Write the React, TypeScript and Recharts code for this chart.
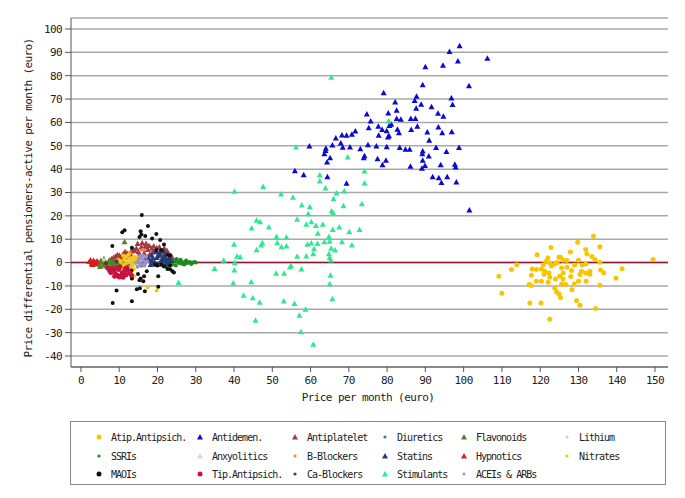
import React from 'react'
import { ScatterChart, Scatter, XAxis, YAxis, CartesianGrid, ReferenceLine } from 'recharts'

// Prezzo mensile (x, euro) vs differenziale pensionati-attivi (y, euro)
type Pt = [number, number]

const xTicks = [0, 10, 20, 30, 40, 50, 60, 70, 80, 90, 100, 110, 120, 130, 140, 150]
const yTicks = [-40, -30, -20, -10, 0, 10, 20, 30, 40, 50, 60, 70, 80, 90, 100]

const atipAntipsich: Pt[] = [
  [133.9, 11.3], [129.8, 8.7], [122.8, 6.5], [135.6, 6.8], [131.9, 5.6], [132.2, 3.7], [127.9, 4.5],
  [119.2, 3.3], [124.9, 2.3], [125.3, 2.3], [133.5, 2.6], [134.3, 1.3], [149.5, 1.3], [127.0, 0.9],
  [121.6, 0.6], [122.5, -0.2], [123.8, -0.6], [124.4, 0], [135.6, 0.1], [131.9, -0.6], [113.9, -0.9],
  [120.8, -0.9], [112.5, -3.0], [117.9, -2.7], [120.3, -2.7], [125.6, -2.3], [128.2, -3.4], [135.8, -3.2],
  [141.4, -2.6], [121.2, -3.7], [122.3, -4.5], [126.0, -4.5], [130.8, -3.7], [131.9, -4.5], [133.0, -3.7],
  [136.6, -4.3], [117.7, -5.4], [109.2, -5.9], [122.5, -6.3], [125.1, -5.9], [130.4, -5.1], [139.8, -6.7],
  [120.3, -8.0], [122.1, -8.4], [119.0, -8.0], [130.0, -8.0], [117.1, -9.4], [117.7, -9.8], [125.6, -9.2],
  [126.7, -9.4], [128.9, -9.2], [135.6, -9.7], [123.8, -10.9], [128.3, -11.6], [124.3, -12.6], [124.9, -13.3],
  [110.0, -13.1], [125.3, -14.9], [117.3, -17.3], [120.2, -17.3], [129.5, -16.3], [130.4, -18.3],
  [134.5, -19.7], [122.5, -24.3], [123.0, -1.5], [126.0, 1.0], [127.0, -2.0], [129.0, -1.0], [121.0, -5.0],
  [124.0, -7.0], [128.0, -6.0], [131.0, -1.0], [133.0, -5.0], [119.0, -3.0], [126.0, -7.0], [122.0, 2.0],
  [130.0, 1.0], [132.0, -8.0],
]

const antidemen: Pt[] = [
  [98.95, 92.7], [96.3, 90.2], [106.2, 87.3], [98.5, 86.2], [90.0, 83.7], [94.6, 84.3], [89.3, 76.0],
  [101.4, 75.6], [79.1, 72.6], [87.7, 71.1], [87.2, 69.3], [96.8, 70.3], [82.1, 68.6], [88.9, 67.6],
  [97.1, 67.5], [91.6, 66.6], [87.6, 65.9], [82.5, 65.1], [80.3, 63.9], [74.7, 63.5], [93.3, 63.8],
  [94.7, 62.5], [82.5, 61.6], [83.6, 61.2], [86.2, 61.5], [87.4, 61.5], [75.7, 60.5], [81.1, 59.1],
  [80.6, 58.5], [77.7, 58.2], [75.2, 57.6], [87.9, 58.2], [93.4, 57.9], [86.3, 56.8], [78.7, 56.8],
  [79.9, 56.3], [82.7, 56.9], [71.7, 56.2], [70.8, 54.8], [83.1, 55.4], [90.5, 55.8], [94.4, 55.4],
  [96.9, 55.9], [68.2, 54.5], [69.4, 54.4], [77.8, 54.4], [80.5, 54.2], [80.2, 53.6], [66.6, 53.2],
  [91.0, 52.2], [67.9, 51.1], [65.7, 50.2], [59.7, 49.8], [75.0, 50.3], [77.2, 49.8], [79.9, 49.5],
  [68.4, 49.2], [70.3, 49.4], [64.0, 48.8], [73.0, 48.6], [83.3, 49.1], [84.8, 48.4], [85.9, 48.4],
  [92.8, 49.1], [98.8, 49.1], [63.9, 47.9], [89.3, 47.6], [95.5, 47.4], [63.6, 46.5], [89.2, 46.5],
  [74.1, 45.6], [90.9, 45.5], [65.1, 44.8], [73.9, 44.8], [77.5, 44.3], [89.3, 43.7], [64.3, 42.9],
  [79.7, 43.7], [78.8, 41.7], [86.1, 41.1], [89.9, 41.4], [94.0, 41.7], [97.7, 42.0], [97.9, 40.8],
  [89.1, 40.2], [55.9, 39.2], [58.2, 37.5], [64.4, 36.6], [91.9, 36.6], [93.5, 36.2], [95.7, 36.6],
  [94.2, 34.1], [98.1, 34.4], [69.4, 33.8], [101.5, 22.4],
]

const antiplatelet: Pt[] = [
  [8.0, 1.5], [9.0, 2.5], [10.0, 3.0], [11.0, 3.5], [12.0, 4.0], [13.0, 3.5], [14.0, 5.0], [15.0, 4.5],
  [16.0, 8.4], [17.0, 8.0], [15.8, 6.5], [17.5, 5.5], [18.5, 6.0], [19.5, 5.0], [20.5, 6.5], [21.5, 4.5],
  [22.5, 5.0], [23.5, 3.0], [13.5, 5.5], [16.5, 4.0], [18.0, 3.5], [19.0, 7.0], [21.0, 3.0], [12.5, 2.0],
  [8.5, 2.0], [9.5, 3.2], [10.5, 2.5], [11.5, 4.5], [12.2, 3.0], [13.2, 4.8], [14.5, 6.0], [15.3, 3.5],
  [16.2, 5.8], [17.8, 7.2], [18.8, 4.5], [19.8, 6.2], [20.8, 5.2], [21.8, 6.0], [22.8, 3.8], [23.8, 2.2],
  [14.8, 8.0], [16.8, 6.8],
]
const diuretics: Pt[] = [[4.3, 0.4], [8.6, 0.2], [16.5, -0.5], [12.5, -1.2], [18.0, 1.0]]
const flavonoids: Pt[] = [
  [4.5, -0.5], [5.2, 0.8], [5.8, -1.2], [6.3, 0.3], [6.9, -0.8], [7.4, 1.0], [8.0, -1.5], [8.5, 0.2],
  [9.0, -0.6], [9.6, 0.9], [10.2, -1.0], [5.0, -1.8], [7.0, -2.0], [11.4, 8.8], [3.5, 0.2], [4.0, -0.8],
  [5.5, 0], [6.0, 1.5], [6.6, -1.5], [7.2, 0], [7.8, 0.6], [8.2, -0.4], [9.3, -1.5], [9.8, 0.1],
  [10.6, 0.4], [11.0, -0.3],
]
const lithium: Pt[] = [[6.0, 1.2], [14.0, 0.8], [19.0, -0.3]]
const ssri: Pt[] = [
  [21.5, 0.3], [22.2, -0.8], [23.0, 1.0], [23.6, -0.4], [24.2, 0.6], [24.8, -1.2], [25.4, 0.2], [26.0, 1.2],
  [26.6, -0.6], [27.2, 0.4], [27.8, -0.2], [28.5, 0.3], [29.2, -0.1], [22.8, -1.5], [25.0, 1.5],
  [21.8, -0.2], [22.5, 0.6], [23.3, 0.1], [24.0, -0.8], [24.5, 1.0], [25.8, -0.3], [26.3, 0.5], [27.0, -0.8],
  [27.5, 0.9], [28.0, 0], [28.8, -0.6], [29.6, 0.2], [30.0, 0],
]
const anxyolitics: Pt[] = [[12.5, 1.0], [18.0, 0.5]]
const bBlockers: Pt[] = [[9.5, 1.2], [12.8, 4.2], [14.6, 2.0], [16.2, 5.5], [11.6, -0.5]]
const statins: Pt[] = [
  [17.8, 1.0], [18.5, 3.0], [19.2, 0], [19.8, 2.0], [20.5, 4.0], [21.1, 1.0], [21.8, 3.0], [22.4, 0.5],
  [18.2, -1.0], [20.0, -0.8], [22.0, -1.5], [19.5, 4.5], [21.5, 5.0], [23.0, 2.0], [18.8, 1.8], [19.5, -0.5],
  [20.3, 2.8], [20.8, 0.2], [21.5, 2.0], [22.2, 1.5], [22.8, -0.5], [23.5, 0.8], [17.5, 2.2], [18.5, 0.5],
]
const hypnotics: Pt[] = [[2.2, 0.3], [2.8, -0.5], [3.3, 0.8], [3.8, -0.2], [2.5, 1.0], [3.0, -1.0], [4.2, 0.5]]
const nitrates: Pt[] = [
  [10.0, 1.0], [10.8, -1.0], [11.5, 2.0], [12.2, 0], [12.8, -2.0], [13.5, 1.5], [14.2, -0.5], [11.0, 3.0],
  [12.5, 3.5], [13.8, -2.8], [10.5, -2.5], [14.8, 2.2], [13.0, -4.5], [13.9, -5.9], [13.4, -6.8],
  [17.4, -10.6], [19.8, -12.0], [12.0, -3.5], [15.2, 0.5], [10.4, 0.2], [11.2, 1.2], [11.8, -1.8],
  [12.6, 1.8], [13.2, 0.5], [13.8, 2.6], [14.4, 1.2], [12.0, 2.8], [11.4, -0.8], [13.5, -1.2],
]
const maoi: Pt[] = [
  [15.9, 20.4], [17.5, 15.7], [11.4, 13.8], [10.8, 13.0], [15.6, 13.4], [15.8, 12.0], [16.8, 11.4],
  [15.3, 11.0], [19.7, 12.2], [18.6, 10.3], [20.7, 9.7], [8.2, 7.1], [13.3, 6.3], [21.7, 7.7], [19.7, 5.4],
  [21.0, 5.4], [22.6, 3.4], [23.3, 3.0], [19.3, -0.9], [20.0, -1.2], [21.0, -0.9], [21.7, -1.6], [23.3, -1.3],
  [22.6, -2.7], [23.9, -3.7], [15.8, -1.3], [17.2, -3.7], [13.2, -3.4], [14.9, -4.9], [16.5, -5.9],
  [13.3, -6.8], [15.6, -6.8], [15.3, -7.6], [16.3, -8.0], [20.2, -5.9], [20.2, -10.3], [14.6, -11.4],
  [15.4, -11.0], [16.7, -12.3], [9.3, -12.0], [8.3, -17.3], [13.3, -16.6], [24.3, -4.2], [23.3, -2.9],
]
const tipAntipsich: Pt[] = [
  [7.5, -3.5], [8.3, -2.5], [9.0, -4.8], [9.8, -3.0], [10.5, -5.5], [11.3, -3.8], [12.0, -2.2],
  [12.8, -4.5], [11.0, -6.3], [8.8, -5.8], [10.2, -1.8], [7.0, -2.3], [7.8, -4.2], [8.6, -3.2],
  [9.4, -2.2], [9.6, -5.5], [10.8, -4.4], [11.8, -5.2], [12.4, -3.4], [13.2, -5.4], [11.6, -2.6], [10.0, -6.2],
]
const caBlockers: Pt[] = [[6.5, -0.3], [9.3, 0.5], [17.0, 1.5]]
const stimulants: Pt[] = [
  [69.7, 45.1], [74.1, 39.1], [62.4, 37.4], [62.4, 34.8], [74.1, 33.9], [47.6, 32.4], [63.9, 31.8],
  [40.1, 30.4], [66.8, 29.7], [68.8, 30.5], [52.3, 29.2], [55.4, 27.8], [66.0, 27.2], [73.4, 25.1],
  [57.7, 24.5], [59.8, 23.8], [68.6, 24.2], [59.4, 20.8], [65.5, 22.0], [65.9, 21.2], [45.9, 18.0],
  [46.8, 17.3], [56.5, 18.4], [44.6, 14.7], [49.1, 15.1], [58.9, 16.3], [60.2, 17.3], [61.4, 15.7],
  [63.2, 16.3], [61.9, 12.4], [65.8, 14.0], [67.5, 15.1], [70.1, 13.1], [72.8, 14.0], [40.0, 7.7],
  [47.4, 8.4], [47.1, 7.4], [51.1, 11.0], [53.7, 10.7], [51.3, 8.4], [52.4, 6.7], [53.7, 7.0], [45.9, 5.4],
  [59.2, 7.7], [60.2, 8.3], [61.8, 8.0], [63.6, 8.8], [64.8, 11.0], [65.0, 9.0], [60.9, 5.8], [65.4, 6.0],
  [66.4, 5.3], [68.2, 8.8], [70.8, 7.4], [40.8, 2.6], [41.6, 2.3], [37.3, 0.9], [40.2, -0.2], [56.5, 2.6],
  [58.9, 2.7], [60.7, 3.7], [64.8, 3.7], [65.0, 2.0], [65.3, 1.0], [54.9, -1.5], [54.6, -2.0], [57.6, -2.9],
  [34.9, -2.7], [40.1, -3.3], [51.0, -4.7], [53.1, -4.7], [65.2, -5.6], [39.8, -8.9], [44.5, -8.3],
  [65.0, -9.2], [42.5, -14.1], [44.9, -15.2], [46.7, -17.1], [53.0, -16.6], [55.8, -17.6], [65.7, -15.6],
  [58.7, -20.1], [57.1, -22.7], [45.6, -24.8], [57.5, -29.7], [60.7, -35.1], [65.4, 79.2], [56.2, 49.4],
  [80.4, 60.5], [25.5, -8.7],
]
const aceiArb: Pt[] = [
  [14.5, 0], [15.2, 1.8], [15.8, -1.0], [16.4, 0.8], [17.0, 2.5], [14.8, -1.8], [16.8, -0.2], [15.5, 2.8],
  [15.0, 0.6], [16.0, 1.5], [16.6, -1.2], [17.3, 0.6], [15.4, -0.4], [16.2, 3.0],
]

type Marker = 'dot' | 'small' | 'tri'

interface SeriesMeta {
  label: string
  data: Pt[]
  color: string
  marker: Marker
}

// ordine di disegno = ordine della legenda (per righe)
const SERIES: SeriesMeta[] = [
  { label: 'Atip.Antipsich.', data: atipAntipsich, color: '#f7c600', marker: 'dot' },
  { label: 'Antidemen.', data: antidemen, color: '#0a0ad0', marker: 'tri' },
  { label: 'Antiplatelet', data: antiplatelet, color: '#a23b48', marker: 'tri' },
  { label: 'Diuretics', data: diuretics, color: '#3f7f7f', marker: 'small' },
  { label: 'Flavonoids', data: flavonoids, color: '#5d7d2a', marker: 'tri' },
  { label: 'Lithium', data: lithium, color: '#c8d89a', marker: 'small' },
  { label: 'SSRIs', data: ssri, color: '#1f8a1f', marker: 'small' },
  { label: 'Anxyolitics', data: anxyolitics, color: '#d8d8d8', marker: 'tri' },
  { label: 'B-Blockers', data: bBlockers, color: '#f58a2a', marker: 'small' },
  { label: 'Statins', data: statins, color: '#233a78', marker: 'tri' },
  { label: 'Hypnotics', data: hypnotics, color: '#e01a1a', marker: 'tri' },
  { label: 'Nitrates', data: nitrates, color: '#f5c518', marker: 'small' },
  { label: 'MAOIs', data: maoi, color: '#111111', marker: 'dot' },
  { label: 'Tip.Antipsich.', data: tipAntipsich, color: '#c8123f', marker: 'dot' },
  { label: 'Ca-Blockers', data: caBlockers, color: '#3a4a2a', marker: 'small' },
  { label: 'Stimulants', data: stimulants, color: '#2fe88f', marker: 'tri' },
  { label: 'ACEIs & ARBs', data: aceiArb, color: '#9a8fd0', marker: 'small' },
]

const FONT = '"DejaVu Sans Mono", monospace'

function markerShape(color: string, marker: Marker, r: number) {
  return (props: any) => {
    const { cx, cy } = props
    if (cx == null || cy == null) return <g />
    if (marker === 'tri') {
      return <polygon points={`${cx},${cy - 3.3} ${cx - 3},${cy + 2.2} ${cx + 3},${cy + 2.2}`} fill={color} />
    }
    return <circle cx={cx} cy={cy} r={r} fill={color} />
  }
}

function LegendMarker({ color, marker }: { color: string; marker: Marker }) {
  return (
    <svg width={8} height={8} style={{ display: 'block' }}>
      {marker === 'tri' ? (
        <polygon points="4,1 1,6.5 7,6.5" fill={color} />
      ) : (
        <circle cx={4} cy={4} r={marker === 'dot' ? 2.5 : 1.6} fill={color} />
      )}
    </svg>
  )
}

const LEG_COLS = [99, 200, 295, 385, 464, 567]
const LEG_ROWS = [437, 456, 474]

export default function App() {
  return (
    <div style={{ position: 'fixed', left: 0, top: 0, width: 685, height: 498, background: '#fff' }}>
      <ScatterChart width={685} height={498} margin={{ top: 18, right: 17, bottom: 101, left: 0 }}>
        <CartesianGrid vertical={false} stroke="#a8a8a8" strokeWidth={1.5} />
        <XAxis
          type="number"
          dataKey="x"
          domain={[-2.6, 153.4]}
          ticks={xTicks}
          height={30}
          tickSize={5}
          tickMargin={4}
          stroke="#555"
          tick={{ fontSize: 11, fill: '#222', fontFamily: FONT, letterSpacing: -0.6 }}
        />
        <YAxis
          type="number"
          dataKey="y"
          domain={[-44.7, 104.7]}
          ticks={yTicks}
          width={71}
          tickSize={6}
          tickMargin={3}
          stroke="#555"
          tick={{ fontSize: 11, fill: '#222', fontFamily: FONT, letterSpacing: -0.6 }}
        />
        <ReferenceLine y={0} stroke="#8c1a2e" strokeWidth={1.5} />
        {SERIES.map((s) => (
          <Scatter
            key={s.label}
            name={s.label}
            data={s.data.map(([x, y]) => ({ x, y }))}
            shape={markerShape(s.color, s.marker, s.label === 'MAOIs' ? 2 : s.marker === 'dot' ? 2.5 : 2)}
            isAnimationActive={false}
          />
        ))}
      </ScatterChart>

      <div
        style={{
          position: 'absolute',
          left: 28,
          top: 198,
          transform: 'translate(-50%, -50%) rotate(-90deg)',
          whiteSpace: 'nowrap',
          fontFamily: FONT,
          fontSize: 11,
          letterSpacing: -0.6,
          color: '#222',
        }}
      >
        Price differential pensioners-active per month (euro)
      </div>
      <div
        style={{
          position: 'absolute',
          left: 368,
          top: 397,
          transform: 'translate(-50%, -50%)',
          whiteSpace: 'nowrap',
          fontFamily: FONT,
          fontSize: 11,
          letterSpacing: -0.6,
          color: '#222',
        }}
      >
        Price per month (euro)
      </div>

      {/* legenda */}
      <div
        style={{
          position: 'absolute',
          left: 70,
          top: 421,
          width: 596,
          height: 64,
          border: '1.5px solid #888',
          boxSizing: 'border-box',
        }}
      />
      {SERIES.map((s, i) => {
        const col = i % 6
        const row = Math.floor(i / 6)
        return (
          <div
            key={s.label}
            style={{
              position: 'absolute',
              left: LEG_COLS[col] - 4,
              top: LEG_ROWS[row] - 6,
              display: 'flex',
              alignItems: 'center',
              gap: 8,
              height: 12,
              fontFamily: FONT,
              fontSize: 10,
              letterSpacing: -1,
              color: '#222',
              whiteSpace: 'nowrap',
            }}
          >
            <LegendMarker color={s.color} marker={s.marker} />
            <span>{s.label}</span>
          </div>
        )
      })}
    </div>
  )
}
